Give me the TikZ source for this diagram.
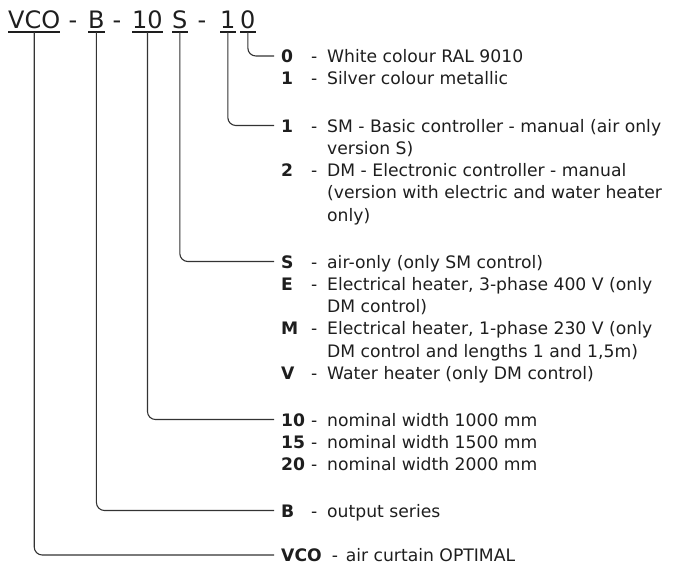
\documentclass[tikz,border=0pt]{standalone}
\usepackage{fontspec}
\setmainfont{DejaVu Sans}
\usepackage{array}
\definecolor{TextDark}{HTML}{1E1E1E}
\definecolor{LeadGray}{HTML}{333333}
\newcommand{\codefont}{\fontsize{24}{28}\selectfont}
\newcommand{\descfont}{\fontsize{17.2}{22.3}\selectfont}
\newcolumntype{K}{@{}>{\bfseries}w{l}{30pt}@{}w{l}{16pt}@{}l@{}}
\tikzset{
  code/.style={font=\codefont, text=TextDark, inner sep=0pt, text depth=4pt, anchor=base west},
  sep/.style={font=\codefont, text=TextDark, inner sep=0pt, anchor=base},
  entry/.style={font=\descfont, text=TextDark, anchor=base west, inner xsep=7pt, inner ysep=0pt},
  uline/.style={draw=TextDark, line width=1.5pt},
  leader/.style={draw=LeadGray, line width=1.1pt, rounded corners=8pt}
}

\begin{document}
\begin{tikzpicture}[x=1pt,y=-1pt]
  \useasboundingbox (0,0) rectangle (700,566);

  % type code
  \node[code] (cVCO) at (8,28) {VCO};
  \node[sep] (d1) at (73,28) {-};
  \node[code] (cB) at (88,28) {B};
  \node[sep] (d2) at (117,28) {-};
  \node[code] (c10) at (132,28) {10};
  \node[code] (cS) at (172,28) {S};
  \node[sep] (d3) at (202,28) {-};
  \node[code] (c1) at (220,28) {1};
  \node[code] (c0) at (240,28) {0};

  \foreach \c in {cVCO,cB,c10,cS,c1,c0}
    \draw[uline] (\c.south west) -- (\c.south east);

  % explanations
  \node[entry] (g0) at (274,62.5) {\begin{tabular}[t]{K}
    0 & - & White colour RAL 9010\\
    1 & - & Silver colour metallic
  \end{tabular}};

  \node[entry] (g1) at (274,132) {\begin{tabular}[t]{K}
    1 & - & SM - Basic controller - manual (air only\\
      &   & version S)\\
    2 & - & DM - Electronic controller - manual\\
      &   & (version with electric and water heater\\
      &   & only)
  \end{tabular}};

  \node[entry] (gS) at (274,268) {\begin{tabular}[t]{K}
    S & - & air-only (only SM control)\\
    E & - & Electrical heater, 3-phase 400 V (only\\
      &   & DM control)\\
    M & - & Electrical heater, 1-phase 230 V (only\\
      &   & DM control and lengths 1 and 1,5m)\\
    V & - & Water heater (only DM control)
  \end{tabular}};

  \node[entry] (g10) at (274,426) {\begin{tabular}[t]{K}
    10 & - & nominal width 1000 mm\\
    15 & - & nominal width 1500 mm\\
    20 & - & nominal width 2000 mm
  \end{tabular}};

  \node[entry] (gB) at (274,517) {\begin{tabular}[t]{K}
    B & - & output series
  \end{tabular}};

  \node[entry] (gVCO) at (274,561.5) {\begin{tabular}[t]{@{}>{\bfseries}l@{\hspace{10pt}}w{l}{14pt}@{}l@{}}
    VCO & - & air curtain OPTIMAL
  \end{tabular}};

  % leaders
  \draw[leader] (c0.south) |- ([yshift=6.5pt]g0.base west);
  \draw[leader] (c1.south) |- ([yshift=6.5pt]g1.base west);
  \draw[leader] (cS.south) |- ([yshift=6.5pt]gS.base west);
  \draw[leader] (c10.south) |- ([yshift=6.5pt]g10.base west);
  \draw[leader] (cB.south) |- ([yshift=6.5pt]gB.base west);
  \draw[leader] (cVCO.south) |- ([yshift=6.5pt]gVCO.base west);
\end{tikzpicture}
\end{document}
